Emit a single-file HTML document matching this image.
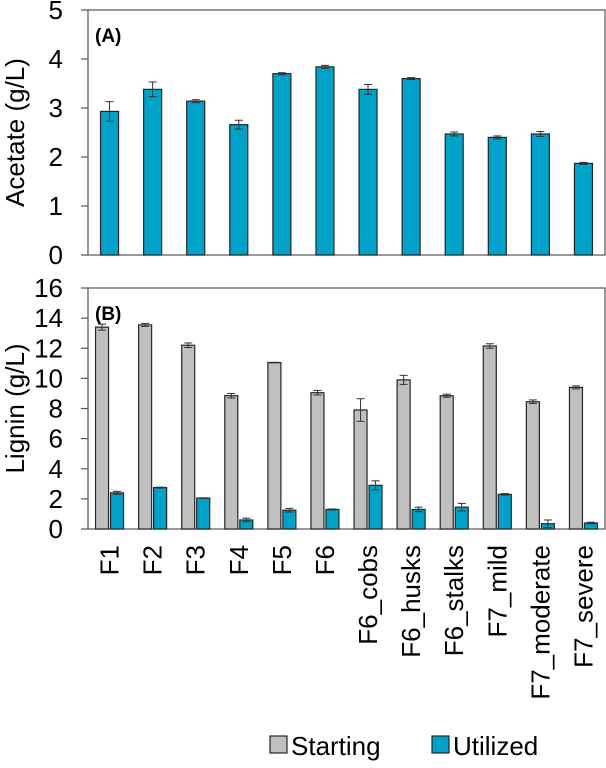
<!DOCTYPE html>
<html><head><meta charset="utf-8"><style>
body{margin:0;background:#fff}
svg text{font-family:"Liberation Sans",Arial,sans-serif;fill:#000}
</style></head><body>
<svg id="c" width="606" height="763"></svg>
<script>
const categories=["F1","F2","F3","F4","F5","F6","F6_cobs","F6_husks","F6_stalks","F7_mild","F7_moderate","F7_severe"];
const acetate=[2.93,3.38,3.14,2.66,3.70,3.84,3.38,3.60,2.47,2.40,2.47,1.87];
const acetateErr=[0.2,0.15,0.03,0.09,0.02,0.03,0.1,0.02,0.04,0.03,0.05,0.02];
const ligninStart=[13.4,13.55,12.2,8.85,11.05,9.05,7.9,9.9,8.85,12.15,8.45,9.4];
const ligninStartErr=[0.2,0.1,0.15,0.15,0.02,0.15,0.75,0.3,0.1,0.15,0.12,0.1];
const ligninUsed=[2.4,2.75,2.05,0.6,1.25,1.3,2.9,1.3,1.45,2.3,0.35,0.4];
const ligninUsedErr=[0.1,0.03,0.02,0.12,0.12,0.03,0.3,0.15,0.25,0.05,0.25,0.05];
const ticksA=[0,1,2,3,4,5];
const ticksB=[0,2,4,6,8,10,12,14,16];

const svg=document.getElementById('c');
const NS='http://www.w3.org/2000/svg';
function mk(t,a,p){const e=document.createElementNS(NS,t);for(const k in a)e.setAttribute(k,a[k]);(p||svg).appendChild(e);return e;}
const X0=88,X1=605,cw=(X1-X0)/categories.length;
const xc=i=>X0+cw*(i+0.5);
const yA=v=>255-v*49;
const yB=v=>529-v*(241/16);
const BLUE='#00a2c9',GRAY='#bfbfbf',ST='#262626';
const FS=26;

function errBar(x,y0,y1,name){
  const g=mk('g',{});
  
  
  mk('line',{x1:x,x2:x,y1:y0,y2:y1,stroke:'#333','stroke-width':1},g);
  mk('line',{x1:x-4,x2:x+4,y1:y0,y2:y0,stroke:'#333','stroke-width':1},g);
  mk('line',{x1:x-4,x2:x+4,y1:y1,y2:y1,stroke:'#333','stroke-width':1},g);
}
function axes(top,bot,ticks,yf,title,label,tag){
  const fr=mk('rect',{x:X0,y:top,width:X1-X0,height:bot-top,fill:'none',stroke:'#555','stroke-width':1.2});
  
  
  ticks.forEach(t=>{
    const y=yf(t);
    mk('line',{x1:X0-7,x2:X0,y1:y,y2:y,stroke:'#555','stroke-width':1.2});
    const tx=mk('text',{x:X0-25,y:y+9,'text-anchor':'end','font-size':FS});
    tx.textContent=t;
    
    
  });
  const cy=(top+bot)/2;
  const tt=mk('text',{x:0,y:0,'text-anchor':'middle','font-size':FS,transform:`translate(24,${cy}) rotate(-90)`});
  tt.textContent=title;
  
  
  const pl=mk('text',{x:95,y:top+32,'font-size':19,'font-weight':'bold'});
  pl.textContent=label;
  
  
}
axes(10,255,ticksA,yA,'Acetate (g/L)','(A)','a');
axes(288,529,ticksB,yB,'Lignin (g/L)','(B)','b');

categories.forEach((c,i)=>{
  const x=xc(i);
  const b=mk('rect',{x:x-9,y:yA(acetate[i]),width:18,height:yA(0)-yA(acetate[i]),fill:BLUE,stroke:ST,'stroke-width':1.2});
  
  
  errBar(x,yA(acetate[i]+acetateErr[i]),yA(acetate[i]-acetateErr[i]),'acetate-error-bar');
  const g=mk('rect',{x:x-14,y:yB(ligninStart[i]),width:13,height:yB(0)-yB(ligninStart[i]),fill:GRAY,stroke:ST,'stroke-width':1.2});
  
  
  errBar(x-7.5,yB(ligninStart[i]+ligninStartErr[i]),yB(ligninStart[i]-ligninStartErr[i]),'starting-error-bar');
  const u=mk('rect',{x:x+1,y:yB(ligninUsed[i]),width:13,height:yB(0)-yB(ligninUsed[i]),fill:BLUE,stroke:ST,'stroke-width':1.2});
  
  
  errBar(x+7.5,yB(ligninUsed[i]+ligninUsedErr[i]),yB(Math.max(0,ligninUsed[i]-ligninUsedErr[i])),'utilized-error-bar');
  const t=mk('text',{x:0,y:0,'text-anchor':'end','font-size':FS,transform:`translate(${x+9},545) rotate(-90)`});
  t.textContent=c;
  
  
});

const l1=mk('rect',{x:270,y:736,width:17,height:17,fill:GRAY,stroke:ST,'stroke-width':1.2});


const t1=mk('text',{x:291,y:755,'font-size':FS});
t1.textContent='Starting';


const l2=mk('rect',{x:432,y:736,width:17,height:17,fill:BLUE,stroke:ST,'stroke-width':1.2});


const t2=mk('text',{x:453,y:755,'font-size':FS});
t2.textContent='Utilized';


</script>
</body></html>
